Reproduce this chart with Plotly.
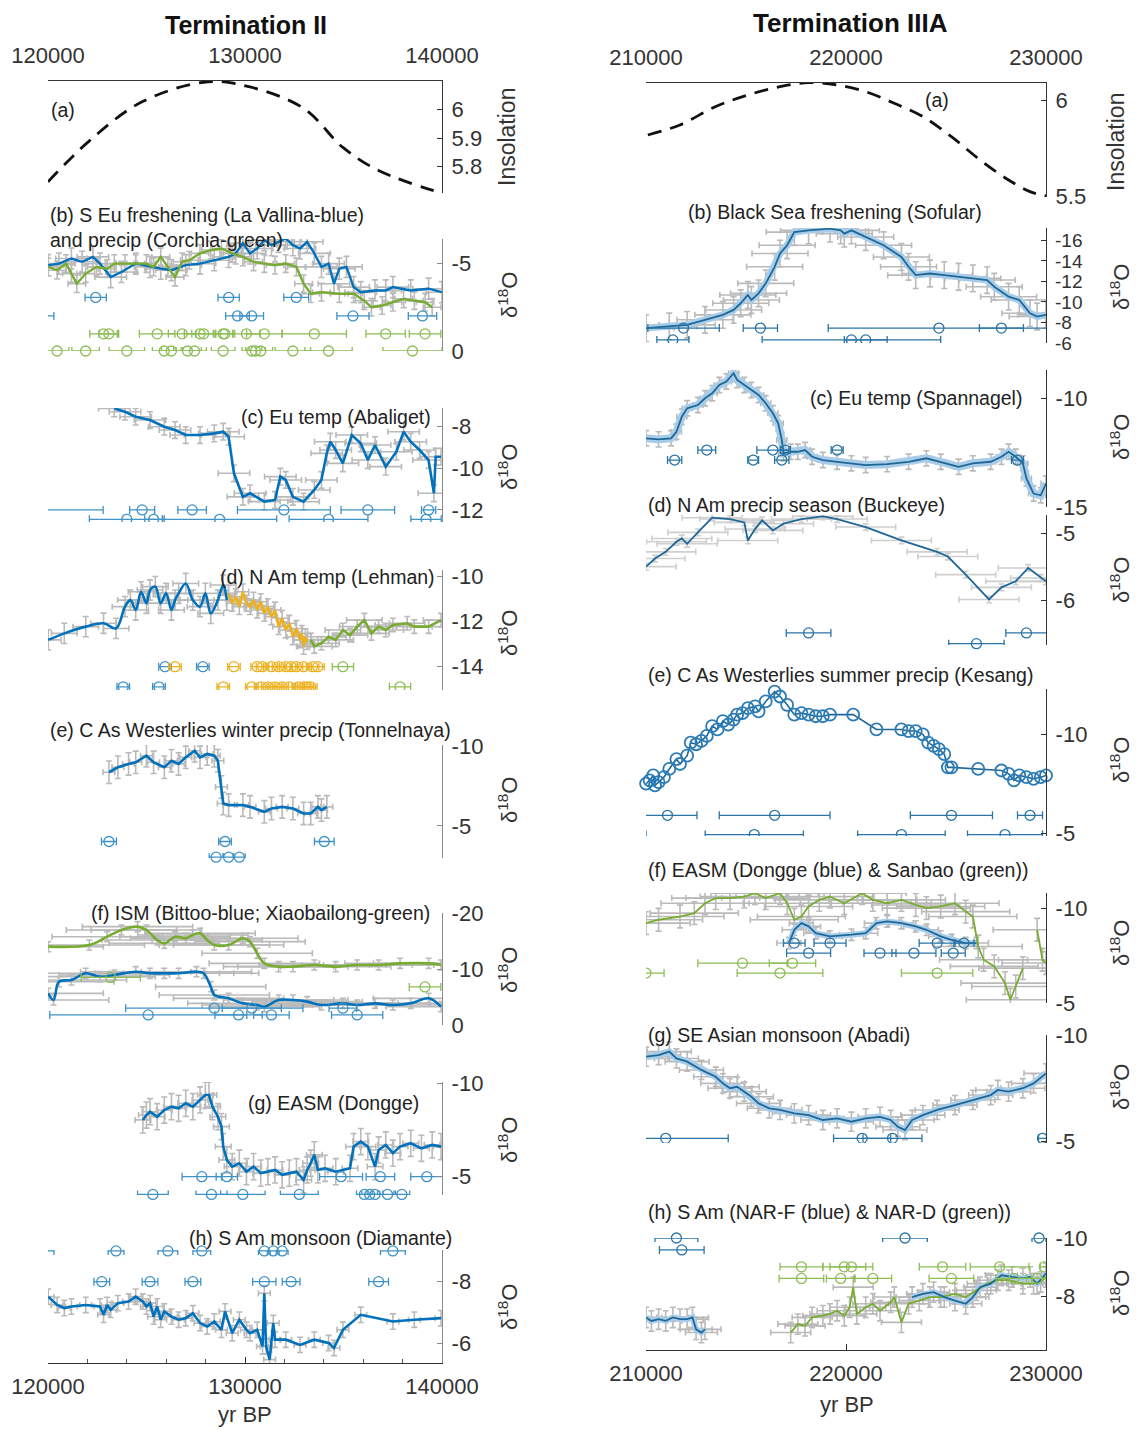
import plotly.graph_objects as go

W, H = 1138, 1429

# ======================= DATA =======================
# ---------- Termination II (left column) ----------
ins2_yr = [120000, 122100, 124800, 128100, 130250, 132980, 134970, 136780, 140000]
ins2_val = [5.746, 5.89, 6.028, 6.097, 6.079, 6.004, 5.867, 5.786, 5.706]

# (b) La Vallina (blue)
vall_yr = [120010, 120555, 121190, 121734, 122278, 122640, 123184, 123728, 124453, 125179,
           125722, 126266, 126992, 127717, 128442, 129167, 129530, 129892, 130255, 130618,
           130980, 131343, 131705, 132068, 132431, 132793, 133156, 133518, 133881, 134244,
           134516, 134788, 135150, 135513, 135876, 136601, 137145, 137507, 138414, 139320, 140000]
vall_d18o = [-4.89, -4.98, -5.27, -5.08, -5.36, -4.98, -4.21, -4.5, -4.98, -4.79,
             -4.69, -4.6, -4.89, -4.98, -5.17, -5.36, -5.56, -6.13, -5.56, -5.84,
             -6.32, -6.03, -6.22, -6.42, -6.03, -5.84, -6.22, -5.56, -4.79, -4.98,
             -3.83, -4.69, -4.79, -3.64, -3.35, -3.45, -3.45, -3.64, -3.45, -3.55, -3.35]
# (b) Corchia (green)
corc_yr = [120010, 120465, 120918, 121190, 121462, 121915, 122459, 123003, 123366, 123910,
           124453, 124997, 125360, 125722, 126085, 126448, 126811, 127173, 127717, 128261,
           128805, 129349, 129892, 130436, 130980, 131524, 132068, 132612, 132975, 133337,
           133881, 134788, 135513, 136057, 136419, 136963, 137507, 138051, 138595, 139139, 139501]
corc_d18o = [-4.79, -4.6, -4.98, -4.41, -3.83, -4.41, -4.79, -4.69, -4.98, -4.98,
             -4.98, -4.98, -4.79, -5.36, -4.79, -4.21, -5.08, -5.17, -5.56, -5.75,
             -5.84, -5.56, -5.36, -5.08, -4.98, -4.89, -4.98, -4.79, -3.83, -3.26,
             -3.35, -3.26, -3.26, -2.87, -2.49, -2.59, -2.78, -2.97, -2.87, -2.78, -2.49]
vall_age1_yr = [122420, 129170, 132600]
vall_age1_err = [540, 540, 630]
vall_age2_yr = [119600, 129620, 130340, 135480, 139010]
vall_age2_err = [700, 600, 600, 815, 720]
corc_age1_yr = [122820, 123090, 125540, 126810, 127720, 127900, 128890, 128980, 130070, 130980, 133520, 137140, 139140]
corc_age1_err = [700, 500, 900, 700, 800, 600, 500, 500, 700, 900, 1630, 1000, 800]
corc_age2_yr = [120460, 121910, 124000, 125900, 126260, 127080, 127440, 128890, 130350, 130530, 130800, 132430, 134240, 138500]
corc_age2_err = [600, 700, 900, 600, 500, 700, 600, 600, 500, 500, 600, 900, 1200, 1500]

# (c) Abaliget
abal_yr = [123365, 123909, 124452, 125178, 125903, 126447, 126990, 127716, 128441, 128894,
           129167, 129439, 129892, 130254, 130980, 131523, 131794, 132066, 132428, 132972,
           133516, 133878, 134150, 134331, 134603, 134966, 135419, 135872, 136235, 136599,
           137142, 137686, 138050, 138410, 138863, 139318, 139590, 139680, 139950]
abal_d18o = [-7.12, -7.28, -7.52, -7.68, -8.0, -8.16, -8.40, -8.40, -8.32, -8.24,
             -8.48, -10.24, -11.37, -11.2, -11.6, -11.52, -10.4, -10.56, -11.37, -11.6,
             -11.04, -10.56, -9.28, -8.72, -9.12, -9.76, -8.40, -8.8, -9.6, -8.88,
             -9.92, -9.2, -8.24, -8.72, -9.12, -9.6, -11.2, -9.44, -9.44]
abal_age1_yr = [119000, 124780, 127315, 131975, 136235, 139320]
abal_age1_err = [3800, 635, 725, 2360, 1360, 360]
abal_age2_yr = [124000, 125360, 128710, 134240, 139190]
abal_age2_err = [1900, 450, 2900, 2000, 770]

# (d) Lehman (blue / yellow / green)
leh_b_yr = [120011, 120827, 121915, 122822, 123456, 123910, 124181, 124453, 124725, 124997,
            125179, 125450, 125722, 125994, 126266, 126448, 126629, 126992, 127354, 127717,
            127989, 128261, 128623, 128895, 129077]
leh_b_d18o = [-12.81, -12.52, -12.22, -12.07, -12.3, -11.33, -11.04, -11.48, -10.67, -11.18,
              -10.59, -10.44, -11.18, -10.74, -11.48, -11.04, -10.74, -10.3, -11.04, -11.33,
              -10.74, -11.63, -11.04, -10.37, -11.04]
leh_y_yr = [129167, 129349, 129530, 129711, 129892, 130074, 130255, 130436, 130618, 130799,
            130980, 131162, 131343, 131524, 131705, 131887, 132068, 132249, 132431, 132612,
            132793, 132884, 132975, 133065, 133156]
leh_y_d18o = [-10.74, -11.18, -10.89, -11.33, -10.67, -11.18, -11.33, -11.04, -11.48, -11.11,
              -11.63, -11.33, -11.78, -11.48, -12.22, -11.85, -12.37, -12.07, -12.67, -12.3,
              -12.81, -12.52, -13.1, -12.67, -12.89]
leh_g_yr = [133337, 133518, 133881, 134244, 134606, 134969, 135331, 135694, 136057, 136419,
            136782, 137144, 137507, 138232, 138595, 139320, 139954]
leh_g_d18o = [-12.81, -13.1, -12.96, -12.67, -12.81, -12.37, -12.6, -12.22, -11.93, -12.52,
              -12.22, -12.37, -12.15, -12.07, -12.22, -12.22, -11.93]
leh_age1_b_yr = [125939, 127861]
leh_age1_y_yr = [126447, 129438, 130617, 130889, 131342, 131705, 132068, 132340, 132612, 132975, 133428, 133700]
leh_age1_g_yr = [134969]
leh_age2_b_yr = [123819, 125632]
leh_age2_y_yr = [128895, 130345, 130798, 131161, 131524, 131886, 132249, 132702, 132975, 133156, 133337]
leh_age2_g_yr = [137869]
leh_age_err = 320

# (e) Tonnelnaya
tonn_yr = [123093, 123547, 124091, 124453, 124997, 125360, 125904, 126266, 126629, 126992,
           127445, 127717, 128079, 128442, 128623, 128804, 128895, 129167, 129892, 130255,
           130980, 131343, 131887, 132431, 132975, 133337, 133700, 133881, 134153]
tonn_d18o = [-8.35, -8.66, -8.87, -8.97, -9.38, -8.97, -8.66, -9.07, -8.87, -9.28,
             -9.69, -9.28, -9.49, -9.38, -9.07, -7.43, -6.4, -6.3, -6.3, -6.19,
             -5.88, -6.09, -6.19, -6.09, -5.78, -5.78, -6.19, -5.99, -6.19]
tonn_age1_yr = [123093, 128985, 134025]
tonn_age1_err = [380, 320, 500]
tonn_age2_yr = [128532, 129167, 129711]
tonn_age2_err = [350, 250, 300]

# (f) Bittoo (blue) and Xiaobailong (green)
xiao_yr = [120011, 122097, 123003, 123728, 124544, 124997, 125541, 125904, 126448, 126992,
           127354, 127717, 128079, 128442, 129167, 129892, 130255, 130618, 130980, 131705,
           132431, 133518, 134606, 135694, 136782, 137870, 139320, 139954]
xiao_d18o = [-13.99, -14.29, -15.77, -16.96, -17.56, -16.96, -15.18, -14.58, -15.77, -15.48,
             -16.07, -16.37, -15.18, -14.29, -14.29, -15.48, -14.88, -12.8, -11.01, -10.42,
             -10.42, -10.71, -10.42, -10.71, -10.71, -11.01, -11.01, -10.71]
bitt_yr = [120011, 120284, 120555, 121190, 121915, 122640, 123366, 124453, 125179, 125904,
           126629, 127536, 127898, 128261, 128442, 129167, 129892, 130618, 130980, 131705,
           132431, 133156, 133881, 134969, 135694, 136601, 137507, 138414, 139320, 139954]
bitt_d18o = [-5.65, -4.46, -7.74, -8.04, -9.23, -8.63, -8.93, -9.52, -9.23, -9.23,
             -9.23, -9.52, -9.23, -6.85, -5.36, -4.76, -3.87, -3.57, -3.27, -4.46,
             -4.46, -4.17, -3.57, -3.87, -3.57, -3.87, -3.57, -3.87, -4.76, -3.27]
bitt_age1_yr = [128442, 130345, 134969]
bitt_age1_err = [4500, 1500, 700]
bitt_age2_yr = [125089, 129674, 131343, 135694]
bitt_age2_err = [5000, 1200, 900, 1300]
xiao_age_yr = [123184, 139138]
xiao_age_err = [1500, 800]
xiao_age_lvl = [-8.5, -6.8]

# (g) Dongge
dong2_yr = [124816, 124997, 125179, 125541, 125904, 126266, 126629, 126992, 127354, 127717,
            127989, 128170, 128351, 128623, 128805, 128895, 129076, 129349, 129711, 130074,
            130436, 130799, 131162, 131524, 131887, 132249, 132612, 132975, 133156, 133337,
            133518, 133699, 134062, 134606, 135331, 135513, 135876, 136237, 136601, 136782,
            137144, 137507, 137870, 138414, 138957, 139501, 139954]
dong2_d18o = [-8.04, -8.3, -8.48, -8.21, -8.57, -8.75, -8.66, -8.93, -8.75, -9.11,
              -9.37, -9.37, -8.75, -8.21, -7.68, -6.61, -5.9, -5.54, -5.72, -5.27,
              -5.54, -5.19, -5.27, -5.36, -5.1, -5.19, -5.27, -4.83, -5.36, -5.72,
              -6.17, -5.36, -5.45, -5.27, -5.45, -6.61, -6.88, -6.61, -5.54, -6.43,
              -6.7, -6.26, -6.61, -6.79, -6.52, -6.7, -6.61]
dong2_age1_yr = [127807, 129076, 134878, 136872, 139229]
dong2_age1_err = [1000, 540, 1090, 725, 815]
dong2_age2_yr = [125324, 128297, 129892, 132756, 136057, 136328, 136601, 137235, 137960]
dong2_age2_err = [780, 790, 1130, 960, 400, 400, 400, 400, 400]

# (h) Diamante
diam_yr = [120011, 120465, 120827, 121190, 121915, 122640, 122822, 123003, 123184, 123547,
           124091, 124453, 124816, 124997, 125179, 125360, 125541, 125722, 125904, 126266,
           126629, 126992, 127354, 127717, 128079, 128442, 128805, 128986, 129349, 129711,
           130074, 130255, 130618, 130890, 130980, 131071, 131252, 131433, 131524, 132068,
           132793, 133518, 134244, 134516, 134969, 135876, 137507, 138595, 139954]
diam_d18o = [-7.51, -7.24, -7.14, -7.19, -7.24, -7.19, -6.92, -7.24, -7.08, -7.3,
             -7.35, -7.51, -7.35, -7.19, -7.3, -6.86, -7.19, -6.76, -7.03, -6.86,
             -6.76, -6.81, -6.97, -6.65, -6.54, -6.7, -6.43, -7.03, -6.32, -6.76,
             -6.43, -6.32, -6.43, -5.89, -7.62, -5.89, -5.46, -6.65, -6.11, -6.11,
             -5.94, -6.11, -6.0, -5.84, -6.43, -6.92, -6.7, -6.76, -6.81]
diam_age1_yr = [119700, 123456, 126085, 127807, 130980, 131433, 131886, 137506]
diam_age1_err = [600, 400, 500, 450, 300, 300, 300, 630]
diam_age2_yr = [122731, 125179, 127354, 130980, 132340, 136782]
diam_age2_err = [400, 400, 400, 590, 450, 500]

# ---------- Termination IIIA (right column) ----------
ins3_yr = [210093, 211700, 213486, 215093, 216700, 218129, 219557, 220986, 222414, 223843,
           225271, 226700, 228129, 229200, 230000]
ins3_val = [5.819, 5.871, 5.966, 6.026, 6.069, 6.09, 6.078, 6.043, 5.983, 5.914,
            5.81, 5.69, 5.586, 5.526, 5.503]

# (b) Sofular
sofu_yr = [210004, 211164, 212057, 212950, 213843, 214379, 214736, 215093, 215271, 215629,
           215986, 216432, 216700, 217057, 217414, 218129, 219200, 219736, 219914, 220271,
           220986, 221879, 222771, 223129, 223486, 224200, 224914, 225629, 226343, 227057,
           227414, 228129, 228664, 229200, 229557, 230000]
sofu_d18o = [-7.45, -7.61, -7.77, -8.26, -8.74, -9.22, -9.87, -10.68, -10.19, -10.84,
             -11.81, -13.42, -14.71, -15.52, -16.8, -16.97, -17.13, -16.97, -16.65, -16.97,
             -16.32, -15.52, -14.38, -13.42, -12.61, -12.77, -12.61, -12.45, -12.29, -12.13,
             -11.48, -10.51, -10.19, -8.9, -8.58, -8.74]
sofu_age1_yr = [211879, 215718, 224646, 227771]
sofu_age1_err = [1786, 857, 5536, 1100]
sofu_age2_yr = [211343, 220271, 220986]
sofu_age2_err = [800, 4464, 1071]

# (c) Spannagel
span_yr = [210004, 210629, 211254, 211521, 211789, 212057, 212593, 212950, 213307, 213664,
           214021, 214379, 214557, 214914, 215271, 215629, 215986, 216343, 216611, 216789,
           216879, 217236, 217593, 217950, 218307, 218843, 219557, 220271, 220986, 222057,
           223129, 224021, 224736, 225629, 226343, 227236, 227771, 228129, 228486, 228843,
           229021, 229379, 229736, 230000]
span_d18o = [-11.84, -11.89, -11.84, -11.54, -10.85, -10.46, -10.31, -10.0, -9.77, -9.39,
             -9.23, -8.85, -9.16, -9.39, -9.62, -9.85, -10.23, -10.69, -11.15, -11.92,
             -12.53, -12.46, -12.46, -12.38, -12.69, -12.84, -12.92, -12.99, -13.07, -13.03,
             -12.92, -12.76, -12.92, -13.15, -12.99, -12.92, -12.69, -12.46, -12.69, -12.99,
             -13.69, -14.38, -14.46, -13.92]
span_age1_yr = [213039, 216343, 216968, 219557]
span_age1_err = [446, 800, 250, 300]
span_age2_yr = [211432, 215361, 216789, 228575]
span_age2_err = [357, 268, 357, 300]

# (d) Buckeye
buck_yr = [210004, 210450, 210986, 211521, 211789, 212057, 212593, 213307, 214200, 214914,
           215093, 215450, 215807, 216343, 216879, 217771, 218843, 219557, 220986, 222771,
           224557, 225093, 225986, 227150, 227771, 228486, 229111, 229736, 230000]
buck_d18o = [-5.49, -5.37, -5.27, -5.12, -5.07, -5.15, -4.98, -4.76, -4.78, -4.83,
             -5.10, -4.93, -4.80, -4.95, -4.85, -4.78, -4.74, -4.78, -4.90, -5.10,
             -5.27, -5.34, -5.61, -5.98, -5.80, -5.71, -5.51, -5.66, -5.71]
buck_age1_yr = [218129, 229021]
buck_age1_err = [1116, 1027]
buck_age2_yr = [226521]
buck_age2_err = [1384]

# (e) Kesang
kesa_yr = [210004, 210182, 210361, 210450, 210629, 210896, 211164, 211521, 211700, 212057,
           212236, 212504, 212771, 213039, 213307, 213575, 213843, 214111, 214379, 214557,
           214825, 215093, 215450, 215629, 215986, 216432, 216700, 217057, 217414, 217771,
           218129, 218486, 218843, 219200, 220361, 221521, 222771, 223129, 223486, 223843,
           224111, 224379, 224646, 224914, 225093, 225271, 226611, 227771, 228129, 228396,
           228664, 229021, 229379, 229736, 230000]
kesa_d18o = [-7.5, -7.67, -7.92, -7.42, -7.58, -7.83, -8.25, -8.75, -8.5, -8.92,
             -9.58, -9.5, -9.67, -9.92, -10.42, -10.25, -10.67, -10.5, -10.75, -11.0,
             -11.08, -11.33, -11.42, -11.17, -11.67, -12.17, -11.92, -11.5, -11.0, -11.08,
             -11.0, -10.92, -10.92, -11.0, -11.0, -10.25, -10.25, -10.17, -10.17, -10.0,
             -9.58, -9.42, -9.25, -9.0, -8.33, -8.33, -8.25, -8.17, -8.0, -7.67,
             -7.92, -7.83, -7.75, -7.83, -7.92]
kesa_age1_yr = [211075, 216432, 225271, 229200]
kesa_age1_err = [1473, 2768, 2054, 625]
kesa_age2_yr = [209500, 215414, 222771, 227950]
kesa_age2_err = [500, 2455, 2188, 1875]

# (f) Dongge (blue) and Sanbao (green)
sanb_yr = [210004, 210629, 211700, 212414, 212950, 213486, 214200, 214914, 215450, 215986,
           216700, 217057, 217414, 217771, 218129, 218664, 219200, 219914, 220807, 221343,
           222057, 222771, 223486, 224021, 224736, 225450, 225986, 226343, 226611, 226879,
           227414, 227950, 228218, 228486, 228843, None, 229557, 229825, 230000]
sanb_d18o = [-9.21, -9.39, -9.56, -9.74, -10.26, -10.53, -10.53, -10.61, -10.79, -10.53,
             -10.79, -10.26, -9.39, -9.56, -10.09, -10.44, -10.61, -10.26, -10.79, -10.44,
             -10.26, -10.44, -10.17, -10.0, -10.09, -10.26, -9.82, -9.56, -7.98, -7.28,
             -6.93, -6.05, -5.17, -5.87, -6.84, None, -8.86, -7.28, -7.11]
dong3_yr = [217146, 217414, 217771, 218129, 218486, 219200, 220271, 220986, 221521, 222057,
            222771, 223486, 224021, 224736, 225271, 225986, 226521]
dong3_d18o = [-8.16, -8.86, -9.21, -9.04, -8.68, -8.51, -8.6, -8.68, -9.21, -9.3,
              -9.21, -9.04, -8.86, -8.51, -8.33, -8.16, -8.16]
dong3_age1_yr = [217414, 219200, 224557, 225896]
dong3_age1_err = [540, 800, 900, 500]
dong3_age2_yr = [218129, 221700, 223396, 225361]
dong3_age2_err = [1100, 800, 1100, 600]
sanb_age1_yr = [214825, 217325]
sanb_age1_err = [2232, 1160]
sanb_age2_yr = [210004, 216700, 224557]
sanb_age2_err = [900, 2143, 1786]

# (g) Abadi
abad_yr = [210004, 210629, 211164, 211521, 212057, 212771, 213486, 213843, 214200, 214557,
           214914, 215271, 215629, 216164, 216700, 217414, 218129, 218843, 219557, 220271,
           220986, 221700, 222236, 222593, 222950, 223307, 223843, 224557, 225450, 226343,
           227236, 227593, 228129, 228843, 229379, 230000]
abad_d18o = [-8.98, -9.06, -9.22, -8.9, -8.75, -8.36, -8.04, -7.73, -7.5, -7.57,
             -7.34, -7.1, -6.79, -6.56, -6.48, -6.32, -6.24, -6.01, -6.09, -5.93,
             -6.09, -6.16, -6.01, -5.69, -5.54, -6.01, -6.24, -6.48, -6.71, -6.95,
             -7.18, -7.42, -7.34, -7.5, -7.73, -8.2]
abad_age1_yr = [210986, 220807, 222325, 229825]
abad_age1_err = [3125, 1429, 1473, 200]
abad_age2_yr = [221432]
abad_age2_err = [1473]

# (h) NAR-F (blue) and NAR-D (green)
narf_yr = [210004, 210271, 210629, 210986, 211343, 211700, 212057, 212325, 212504, 212771, 212950,
           None,
           223307, 223843, 224379, 224914, 225450, 225986, 226343, 226700, 227236, 227771,
           228307, 228843, 229200, 229557, 230000]
narf_d18o = [-7.27, -7.15, -7.21, -7.15, -7.27, -7.21, -7.21, -7.27, -6.86, -6.75, -6.86,
             None,
             -7.97, -8.08, -8.14, -7.97, -7.85, -7.74, -7.97, -8.31, -8.43, -8.72,
             -8.66, -8.61, -8.66, -8.43, -8.78]
nard_yr = [217236, 217593, 217950, 218307, 218843, 219200, 219557, 219914, 220182, 220361,
           220539, 220986, 221343, 221700, 222236, 222414, 222771, 223129, 223664, 224200,
           224736, 225450, 225986, 226521, 227057, 227593, 228129, 228843, 229379, 229736, 230000]
nard_d18o = [-6.75, -7.04, -6.98, -7.27, -7.33, -7.39, -7.5, -7.33, -7.62, -8.31,
             -7.39, -7.62, -7.74, -7.5, -7.79, -7.97, -7.1, -7.74, -7.85, -7.97,
             -7.97, -8.08, -7.97, -8.2, -8.43, -8.55, -8.55, -8.43, -8.43, -8.49, -8.66]
narf_age1_yr = [211521, 222950, 229650]
narf_age1_err = [1071, 1116, 350]
narf_age2_yr = [211789]
narf_age2_err = [1116]
nard_age1_yr = [217771, 219914, 220271, 224825, 227682, 229914]
nard_age1_err = [1071, 1071, 1071, 1161, 1470, 200]
nard_age2_yr = [217771, 219736, 221343, 225271, 228396, 229557]
nard_age2_err = [1116, 714, 937, 1116, 893, 536]

# tick labels
left_xticks = [120000, 130000, 140000]
right_xticks = [210000, 220000, 230000]

# ======================= STYLE =======================
BLUE = '#0072BD'
BLUE_AGE = '#3f92c6'
BLUE_R = '#1f6797'
BLUE_R_BAND = '#a9cde8'
BLUE_R_AGE = '#2a74a6'
GREEN = '#77AC30'
GREEN_AGE = '#8dbd55'
YELLOW = '#EDB120'
GREY = '#bababa'
FONT = 'Liberation Sans, Arial, Helvetica, sans-serif'
LAB = 19.5

LX = (48, 442)
RX = (646, 1046)

# panel n: column, top px, bottom px, y range (bottom, top), y ticks, tick font size
panels = {
    1: ('L', 81, 193, [5.707, 6.1], [5.8, 5.9, 6], 22),
    2: ('L', 239, 351, [0, -6.38], [-5, 0], 22),
    3: ('L', 408, 522, [-12.58, -7.1], [-12, -10, -8], 22),
    4: ('L', 570, 690, [-15.04, -9.7], [-14, -12, -10], 22),
    5: ('L', 745, 858, [-3.0, -10.05], [-10, -5], 22),
    6: ('L', 913, 1025, [0, -20], [-20, -10, 0], 22),
    7: ('L', 1082, 1195, [-4.02, -10.07], [-10, -5], 22),
    8: ('L', 1250, 1363, [-5.35, -9.03], [-8, -6], 22),
    9: ('R', 83, 197, [5.498, 6.088], [5.5, 6], 22),
    10: ('R', 228, 343, [-6.0, -17.2], [-16, -14, -12, -10, -8, -6], 19),
    11: ('R', 370, 507, [-15.0, -8.7], [-15, -10], 22),
    12: ('R', 515, 645, [-6.66, -4.72], [-6, -5], 22),
    13: ('R', 689, 836, [-4.85, -12.3], [-10, -5], 22),
    14: ('R', 893, 1003, [-5.0, -10.8], [-10, -5], 22),
    15: ('R', 1035, 1143, [-4.93, -10.0], [-10, -5], 22),
    16: ('R', 1238, 1350, [-6.15, -10.0], [-10, -8, -6], 22),
}

fig = go.Figure()
layout = dict(template='none', width=W, height=H, autosize=False,
              margin=dict(l=0, r=0, t=0, b=0, pad=0),
              paper_bgcolor='white', plot_bgcolor='rgba(0,0,0,0)',
              showlegend=False, hovermode=False, font=dict(family=FONT, color='#222', size=16))


def refs(n):
    return ('x' if n == 1 else f'x{n}'), ('y' if n == 1 else f'y{n}')


def akey(kind, n):
    return kind if n == 1 else f'{kind}{n}'


for n, (col, top, bot, yr, yt, fs) in panels.items():
    xp = LX if col == 'L' else RX
    xr = [120000, 140000] if col == 'L' else [210000, 230000]
    xt = left_xticks if col == 'L' else right_xticks
    axcol = '#333' if (col == 'R' or n == 1) else '#8a8a8a'
    xa = dict(domain=[xp[0] / W, xp[1] / W], range=xr, anchor=refs(n)[1],
              showgrid=False, zeroline=False, fixedrange=True, automargin=False)
    if n in (1, 9):
        xa.update(side='top', showline=True, linecolor='#333', linewidth=1.2,
                  ticks='', tickvals=xt, ticktext=[str(v) for v in xt],
                  tickfont=dict(size=22, color='#333'), ticklabelstandoff=8)
    elif n in (8, 16):
        xa.update(side='bottom', showline=True, linecolor='#333', linewidth=1.2,
                  ticks='inside', ticklen=6, tickcolor='#333', tickvals=xt,
                  ticktext=[str(v) for v in xt], tickfont=dict(size=22, color='#333'),
                  ticklabelstandoff=3)
        if n == 8:
            xa.update(minor=dict(ticks='inside', ticklen=4, dtick=2000, tickcolor='#555'))
    else:
        xa.update(visible=False)
    layout[akey('xaxis', n)] = xa
    ya = dict(domain=[1 - bot / H, 1 - top / H], range=yr, anchor=refs(n)[0], side='right',
              showline=True, linecolor=axcol, linewidth=1.2, ticks='inside', ticklen=5,
              tickcolor=axcol, tickvals=yt, ticktext=[f'{v:g}' for v in yt],
              tickfont=dict(size=fs, color='#333'), showgrid=False, zeroline=False,
              fixedrange=True, ticklabelstandoff=4, automargin=False)
    layout[akey('yaxis', n)] = ya


def line(n, x, y, color, width, dash=None, shape='linear', clip=True):
    xa, ya = refs(n)
    fig.add_trace(go.Scatter(x=x, y=y, mode='lines', xaxis=xa, yaxis=ya,
                             line=dict(color=color, width=width, dash=dash, shape=shape),
                             connectgaps=False, hoverinfo='skip', cliponaxis=clip))


def cloud(n, x, y, xe, ye, color=GREY, th=1.6):
    xa, ya = refs(n)
    fig.add_trace(go.Scatter(x=x, y=y, mode='markers', xaxis=xa, yaxis=ya,
                             marker=dict(size=0, color='rgba(0,0,0,0)'),
                             error_x=dict(type='constant', value=xe, color=color, thickness=th, width=3),
                             error_y=dict(type='constant', value=ye, color=color, thickness=th, width=3),
                             hoverinfo='skip'))


def ages(n, x, err, level, color, size=10, clip=True):
    xa, ya = refs(n)
    yv = level if isinstance(level, list) else [level] * len(x)
    if not isinstance(err, list):
        err = [err] * len(x)
    fig.add_trace(go.Scatter(x=x, y=yv, mode='markers', xaxis=xa, yaxis=ya,
                             marker=dict(symbol='circle-open', size=size, color=color,
                                         line=dict(width=1.3, color=color)),
                             error_x=dict(type='data', array=err, symmetric=True, color=color,
                                          thickness=1.3, width=4),
                             cliponaxis=clip, hoverinfo='skip'))


# ---------------- Left column traces ----------------
line(1, ins2_yr, ins2_val, '#111', 2.8, dash='14px,9px', shape='spline')

cloud(2, vall_yr, vall_d18o, 800, 0.6)
cloud(2, corc_yr, corc_d18o, 450, 0.5)
line(2, vall_yr, vall_d18o, BLUE, 2.4)
line(2, corc_yr, corc_d18o, GREEN, 2.4)
ages(2, vall_age1_yr, vall_age1_err, -3.05, BLUE_AGE)
ages(2, vall_age2_yr, vall_age2_err, -2.0, BLUE_AGE)
ages(2, corc_age1_yr, corc_age1_err, -0.98, GREEN_AGE)
ages(2, corc_age2_yr, corc_age2_err, 0.0, GREEN_AGE, clip=False)

cloud(3, abal_yr, abal_d18o, 800, 0.4)
line(3, abal_yr, abal_d18o, BLUE, 2.6)
ages(3, abal_age1_yr, abal_age1_err, -12.0, BLUE_AGE)
ages(3, abal_age2_yr, abal_age2_err, -12.45, BLUE_AGE)

cloud(4, leh_b_yr, leh_b_d18o, 650, 0.45)
cloud(4, leh_y_yr, leh_y_d18o, 300, 0.35)
cloud(4, leh_g_yr, leh_g_d18o, 900, 0.3)
line(4, leh_b_yr, leh_b_d18o, BLUE, 2.6, shape='spline')
line(4, leh_y_yr, leh_y_d18o, YELLOW, 2.6)
line(4, leh_g_yr, leh_g_d18o, GREEN, 2.6)
ages(4, leh_age1_b_yr, leh_age_err, -14.0, BLUE_AGE)
ages(4, leh_age1_y_yr, leh_age_err, -14.0, YELLOW)
ages(4, leh_age1_g_yr, 540, -14.0, GREEN_AGE)
ages(4, leh_age2_b_yr, leh_age_err, -14.9, BLUE_AGE)
ages(4, leh_age2_y_yr, leh_age_err, -14.9, YELLOW)
ages(4, leh_age2_g_yr, 540, -14.9, GREEN_AGE)

cloud(5, tonn_yr, tonn_d18o, 300, 0.7)
line(5, tonn_yr, tonn_d18o, BLUE, 2.6)
ages(5, tonn_age1_yr, tonn_age1_err, -4.03, BLUE_AGE)
ages(5, tonn_age2_yr, tonn_age2_err, -3.05, BLUE_AGE, clip=False)

cloud(6, xiao_yr, xiao_d18o, 2800, 0.9)
cloud(6, bitt_yr, bitt_d18o, 2800, 0.9)
line(6, xiao_yr, xiao_d18o, GREEN, 2.6, shape='spline')
line(6, bitt_yr, bitt_d18o, BLUE, 2.6, shape='spline')
ages(6, bitt_age1_yr, bitt_age1_err, -3.0, BLUE_AGE)
ages(6, bitt_age2_yr, bitt_age2_err, -1.8, BLUE_AGE)
ages(6, xiao_age_yr, xiao_age_err, xiao_age_lvl, GREEN_AGE)

cloud(7, dong2_yr, dong2_d18o, 400, 0.7)
line(7, dong2_yr, dong2_d18o, BLUE, 2.6)
ages(7, dong2_age1_yr, dong2_age1_err, -5.0, BLUE_AGE)
ages(7, dong2_age2_yr, dong2_age2_err, -4.05, BLUE_AGE, clip=False)

cloud(8, diam_yr, diam_d18o, 300, 0.25)
line(8, diam_yr, diam_d18o, BLUE, 2.6)
ages(8, diam_age1_yr[:1], diam_age1_err[:1], -9.0, BLUE_AGE)
ages(8, diam_age1_yr[1:], diam_age1_err[1:], -9.0, BLUE_AGE, clip=False)
ages(8, diam_age2_yr, diam_age2_err, -8.0, BLUE_AGE)

# ---------------- Right column traces ----------------
line(9, ins3_yr, ins3_val, '#111', 2.8, dash='14px,9px', shape='spline')

cloud(10, sofu_yr, sofu_d18o, 1400, 1.3)
line(10, sofu_yr, sofu_d18o, BLUE_R_BAND, 7)
line(10, sofu_yr, sofu_d18o, BLUE_R, 1.8)
ages(10, sofu_age1_yr, sofu_age1_err, -7.45, BLUE_R_AGE)
ages(10, sofu_age2_yr, sofu_age2_err, -6.3, BLUE_R_AGE)

cloud(11, span_yr, span_d18o, 250, 0.35)
line(11, span_yr, span_d18o, BLUE_R_BAND, 8)
line(11, span_yr, span_d18o, BLUE_R, 1.8)
ages(11, span_age1_yr, span_age1_err, -12.38, BLUE_R_AGE)
ages(11, span_age2_yr, span_age2_err, -12.84, BLUE_R_AGE)

cloud(12, buck_yr, buck_d18o, 1500, 0.05, color='#cfcfcf')
line(12, buck_yr, buck_d18o, BLUE_R, 1.8)
ages(12, buck_age1_yr, buck_age1_err, -6.48, BLUE_R_AGE)
ages(12, buck_age2_yr, buck_age2_err, -6.64, BLUE_R_AGE, clip=False)

xa13, ya13 = refs(13)
fig.add_trace(go.Scatter(x=kesa_yr, y=kesa_d18o, mode='lines+markers', xaxis=xa13, yaxis=ya13,
                         line=dict(color=BLUE_R, width=1.6),
                         marker=dict(symbol='circle-open', size=12, color='#2b7bb5',
                                     line=dict(width=1.8, color='#2b7bb5')),
                         cliponaxis=False, hoverinfo='skip'))
ages(13, kesa_age1_yr, kesa_age1_err, -5.9, BLUE_R_AGE)
ages(13, kesa_age2_yr, kesa_age2_err, -4.92, BLUE_R_AGE)

cloud(14, sanb_yr, sanb_d18o, 2200, 0.6)
cloud(14, dong3_yr, dong3_d18o, 600, 0.3)
line(14, dong3_yr, dong3_d18o, BLUE_R_BAND, 6)
line(14, sanb_yr, sanb_d18o, GREEN, 1.8)
line(14, dong3_yr, dong3_d18o, BLUE_R, 1.8)
ages(14, dong3_age1_yr, dong3_age1_err, -8.16, BLUE_R_AGE)
ages(14, dong3_age2_yr, dong3_age2_err, -7.63, BLUE_R_AGE)
ages(14, sanb_age1_yr, sanb_age1_err, -7.1, GREEN_AGE)
ages(14, sanb_age2_yr, sanb_age2_err, -6.58, GREEN_AGE)

cloud(15, abad_yr, abad_d18o, 1100, 0.45)
line(15, abad_yr, abad_d18o, BLUE_R_BAND, 7)
line(15, abad_yr, abad_d18o, BLUE_R, 1.8)
ages(15, abad_age1_yr, abad_age1_err, -5.15, BLUE_R_AGE)
ages(15, abad_age2_yr, abad_age2_err, -4.6, BLUE_R_AGE, clip=False)

cloud(16, narf_yr, narf_d18o, 800, 0.35)
cloud(16, nard_yr, nard_d18o, 1000, 0.35)
line(16, narf_yr, narf_d18o, BLUE_R_BAND, 6)
line(16, nard_yr, nard_d18o, GREEN, 1.8)
line(16, narf_yr, narf_d18o, BLUE_R, 1.8)
ages(16, narf_age1_yr, narf_age1_err, -10.0, BLUE_R_AGE, clip=False)
ages(16, narf_age2_yr, narf_age2_err, -9.59, BLUE_R_AGE)
ages(16, nard_age1_yr, nard_age1_err, -9.01, GREEN_AGE)
ages(16, nard_age2_yr, nard_age2_err, -8.61, GREEN_AGE)

# ---------------- Text ----------------
anns = []


def text(s, xpx, ypx, size=16, xanchor='left', angle=0, color='#222'):
    anns.append(dict(text=s, x=xpx / W, y=1 - ypx / H, xref='paper', yref='paper',
                     xanchor=xanchor, yanchor='middle', showarrow=False, textangle=angle,
                     font=dict(size=size, color=color, family=FONT)))


D18O = '\u03b4<sup>18</sup>O'
text('<b>Termination II</b>', 246, 25, size=25, xanchor='center', color='#111')
text('<b>Termination IIIA</b>', 850, 23, size=26, xanchor='center', color='#111')
text('Insolation', 507, 137, size=23, xanchor='center', angle=-90, color='#333')
text('Insolation', 1116, 142, size=23, xanchor='center', angle=-90, color='#333')
for ypx in [295, 467, 633, 800, 970, 1140, 1307]:
    text(D18O, 508, ypx, size=22, xanchor='center', angle=-90, color='#333')
for ypx in [287, 437, 580, 760, 943, 1087, 1293]:
    text(D18O, 1120, ypx, size=22, xanchor='center', angle=-90, color='#333')
text('yr BP', 245, 1414, size=22, xanchor='center', color='#333')
text('yr BP', 847, 1404, size=22, xanchor='center', color='#333')

text('(a)', 49, 110, size=LAB)
text('(b) S Eu freshening (La Vallina-blue)', 48, 215, size=LAB)
text('and precip (Corchia-green)', 48, 240, size=LAB)
text('(c) Eu temp (Abaliget)', 433, 417, size=LAB, xanchor='right')
text('(d) N Am temp (Lehman)', 437, 577, size=LAB, xanchor='right')
text('(e) C As Westerlies winter precip (Tonnelnaya)', 48, 730, size=LAB)
text('(f) ISM (Bittoo-blue; Xiaobailong-green)', 432, 913, size=LAB, xanchor='right')
text('(g) EASM (Dongge)', 246, 1103, size=LAB)
text('(h) S Am monsoon (Diamante)', 187, 1238, size=LAB)

text('(a)', 937, 100, size=LAB, xanchor='center')
text('(b) Black Sea freshening (Sofular)', 835, 212, size=LAB, xanchor='center')
text('(c) Eu temp (Spannagel)', 808, 398, size=LAB)
text('(d) N Am precip season (Buckeye)', 646, 505, size=LAB)
text('(e) C As Westerlies summer precip (Kesang)', 646, 675, size=LAB)
text('(f) EASM (Dongge (blue) &amp; Sanbao (green))', 646, 870, size=LAB)
text('(g) SE Asian monsoon (Abadi)', 646, 1035, size=LAB)
text('(h) S Am (NAR-F (blue) &amp; NAR-D (green))', 646, 1212, size=LAB)

layout['annotations'] = anns
fig.update_layout(**layout)

fig.write_html("out.html", config={'displayModeBar': False, 'staticPlot': True},
               post_script="document.body.style.margin='0px';")
